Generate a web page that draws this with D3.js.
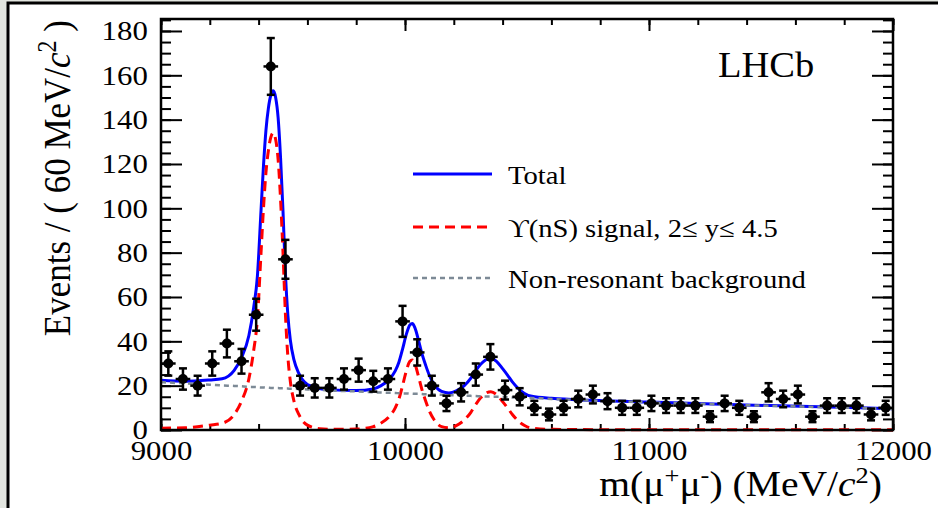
<!DOCTYPE html>
<html>
<head>
<meta charset="utf-8">
<script src="https://cdn.jsdelivr.net/npm/d3@7"></script>
<style>
body { margin: 0; background: #e2e5df; }
svg { display: block; }
</style>
</head>
<body>
<svg id="chart" width="938" height="508"></svg>
<script>
// bins of 60 MeV between 9000 and 12000
var binLow = 9000, binWidth = 60;
var counts = [30, 23, 20, 30, 39, 31, 52, 164, 77, 20,
              19, 19, 23, 27, 22, 23, 49, 35, 20, 12,
              17, 25, 33, 18, 15, 10, 7, 10, 14, 16,
              13, 10, 10, 12, 11, 11, 11, 6, 12, 10,
              6, 17, 14, 16, 6, 11, 11, 11, 7, 10];

// fit curves
var massGrid = [9000, 9100, 9200, 9250, 9300, 9330, 9360, 9380, 9395, 9410,
                9420, 9430, 9440, 9450, 9460, 9470, 9480, 9490, 9500, 9510,
                9520, 9530, 9545, 9565, 9600, 9650, 9700, 9800, 9870, 9900,
                9935, 9960, 9975, 9990, 10005, 10020, 10030, 10040, 10058, 10070,
                10085, 10100, 10120, 10150, 10180, 10210, 10243, 10270, 10290, 10310,
                10330, 10352, 10375, 10400, 10420, 10440, 10460, 10490, 10520, 10600,
                11000, 11500, 12000];
var signal = [0.8, 1.0, 2.2, 3.0, 7, 13, 23, 36, 50, 80,
              100, 116, 126, 132, 134, 131, 122, 104, 80, 52,
              33, 22, 13, 7, 2.2, 0.6, 0.3, 0.4, 1.5, 3,
              6, 10, 14, 20, 26.5, 31, 31.6, 30, 23, 18,
              13, 8.5, 4.5, 1.5, 1, 2, 4.5, 8, 11.5, 14.5,
              16.5, 17.3, 16, 12.8, 10, 7, 4.5, 2, 0.8, 0.3,
              0.1, 0.1, 0.1];
var background = [21.6, 21.0, 20.4, 20.1, 19.9, 19.7, 19.5, 19.4, 19.3, 19.2,
                  19.2, 19.1, 19.1, 19.0, 19.0, 18.9, 18.9, 18.8, 18.8, 18.7,
                  18.7, 18.6, 18.6, 18.5, 18.3, 18.1, 17.8, 17.4, 17.0, 16.9,
                  16.8, 16.7, 16.6, 16.5, 16.5, 16.4, 16.4, 16.3, 16.3, 16.2,
                  16.1, 16.1, 16.0, 15.9, 15.7, 15.6, 15.5, 15.4, 15.3, 15.2,
                  15.1, 15.1, 15.0, 14.9, 14.8, 14.7, 14.7, 14.5, 14.4, 14.0,
                  12.5, 10.9, 9.5];

var yTicks = [0, 20, 40, 60, 80, 100, 120, 140, 160, 180];
var xTicks = [9000, 10000, 11000, 12000];
var legendLabels = ["Total", "\u03D2(nS) signal, 2\u2264 y\u2264 4.5", "Non-resonant background"];

var svg = d3.select("#chart"),
    width = +svg.attr("width"),
    height = +svg.attr("height");

var pLeft = 161, pRight = 893, pTop = 19, pBottom = 430;
var stretch = "scale(1.1,1)";

// outer frame
svg.append("rect")
    .attr("x", 8).attr("y", 3)
    .attr("width", 960).attr("height", 540)
    .attr("fill", "white")
    .attr("stroke", "black")
    .attr("stroke-width", 3);

var x = d3.scaleLinear().domain([9000, 12000]).range([pLeft, pRight]);
var y = d3.scaleLinear().domain([0, 185.4]).range([pBottom, pTop]);

// ticks, ROOT style (inside)
function minorAxis(axis, vals, size) {
    return axis.tickValues(vals).tickSize(size).tickFormat("");
}
var yMinor = d3.range(0, 186, 5), xMinor = d3.range(9000, 12001, 200);

svg.append("g").attr("transform", "translate(" + pLeft + ",0)")
    .call(minorAxis(d3.axisLeft(y), yMinor, -10));
svg.append("g").attr("transform", "translate(" + pRight + ",0)")
    .call(minorAxis(d3.axisRight(y), yMinor, -10));
svg.append("g").attr("transform", "translate(" + pRight + ",0)")
    .call(minorAxis(d3.axisRight(y), yTicks, -21));
svg.append("g").attr("transform", "translate(0," + pBottom + ")")
    .call(minorAxis(d3.axisBottom(x), xMinor, -6));
svg.append("g").attr("transform", "translate(0," + pTop + ")")
    .call(minorAxis(d3.axisTop(x), xMinor, -6));
svg.append("g").attr("transform", "translate(0," + pTop + ")")
    .call(minorAxis(d3.axisTop(x), xTicks, -12));

var yAxis = svg.append("g")
    .attr("class", "yaxis")
    .attr("transform", "translate(" + pLeft + ",0)")
    .call(d3.axisLeft(y).tickValues(yTicks).tickSize(-21).tickPadding(12));
var xAxis = svg.append("g")
    .attr("class", "xaxis")
    .attr("transform", "translate(0," + pBottom + ")")
    .call(d3.axisBottom(x).tickValues(xTicks).tickSize(-12).tickPadding(10).tickFormat(d3.format("d")));

svg.selectAll(".domain").remove();
svg.selectAll(".tick line").attr("stroke", "black").attr("stroke-width", 2);
svg.selectAll(".yaxis text, .xaxis text")
    .attr("transform", stretch)
    .attr("font-family", "Liberation Serif")
    .attr("font-size", 28)
    .attr("fill", "black");

// curves
var line = d3.line()
    .x(function (d) { return x(d[0]); })
    .y(function (d) { return y(d[1]); })
    .curve(d3.curveMonotoneX);

svg.append("clipPath").attr("id", "plotclip")
    .append("rect").attr("x", pLeft).attr("y", pTop - 2)
    .attr("width", pRight - pLeft).attr("height", pBottom - pTop + 6);

var plot = svg.append("g").attr("clip-path", "url(#plotclip)");

var totalPts = massGrid.map(function (m, i) { return [m, signal[i] + background[i]]; });
var sigPts = massGrid.map(function (m, i) { return [m, signal[i]]; });
var bkgPts = massGrid.map(function (m, i) { return [m, background[i]]; });

plot.append("path").attr("d", line(totalPts))
    .attr("fill", "none").attr("stroke", "#0000ff").attr("stroke-width", 3);
plot.append("path").attr("d", line(sigPts))
    .attr("fill", "none").attr("stroke", "#ff0000").attr("stroke-width", 3)
    .attr("stroke-dasharray", "10,6");
plot.append("path").attr("d", line(bkgPts))
    .attr("fill", "none").attr("stroke", "#7d8a96").attr("stroke-width", 2.5)
    .attr("stroke-dasharray", "5,4");

// data points with errors
var bins = counts.map(function (n, i) {
    return { m: binLow + binWidth * (i + 0.5), n: n, e: Math.sqrt(n) };
});
var pts = svg.append("g").selectAll("g").data(bins).enter().append("g");
pts.append("line")
    .attr("x1", function (d) { return x(d.m - binWidth / 2); })
    .attr("x2", function (d) { return x(d.m + binWidth / 2); })
    .attr("y1", function (d) { return y(d.n); })
    .attr("y2", function (d) { return y(d.n); })
    .attr("stroke", "black").attr("stroke-width", 2.5);
pts.append("line")
    .attr("x1", function (d) { return x(d.m); })
    .attr("x2", function (d) { return x(d.m); })
    .attr("y1", function (d) { return y(d.n - d.e); })
    .attr("y2", function (d) { return y(d.n + d.e); })
    .attr("stroke", "black").attr("stroke-width", 2.5);
[-1, 1].forEach(function (s) {
    pts.append("line")
        .attr("x1", function (d) { return x(d.m) - 4; })
        .attr("x2", function (d) { return x(d.m) + 4; })
        .attr("y1", function (d) { return y(d.n + s * d.e); })
        .attr("y2", function (d) { return y(d.n + s * d.e); })
        .attr("stroke", "black").attr("stroke-width", 2.5);
});
pts.append("circle")
    .attr("cx", function (d) { return x(d.m); })
    .attr("cy", function (d) { return y(d.n); })
    .attr("r", 5)
    .attr("fill", "black");

// frame
svg.append("rect")
    .attr("x", pLeft).attr("y", pTop)
    .attr("width", pRight - pLeft).attr("height", pBottom - pTop)
    .attr("fill", "none").attr("stroke", "black").attr("stroke-width", 2.5);

// legend
var legY = [174, 227, 278];
var legStyle = [
    { c: "#0000ff", w: 3, dash: null },
    { c: "#ff0000", w: 3, dash: "10,6" },
    { c: "#7d8a96", w: 2.5, dash: "5,4" }
];
var leg = svg.append("g").selectAll("g").data(legendLabels).enter().append("g");
leg.append("line")
    .attr("x1", 413).attr("x2", 492)
    .attr("y1", function (d, i) { return legY[i]; })
    .attr("y2", function (d, i) { return legY[i]; })
    .attr("stroke", function (d, i) { return legStyle[i].c; })
    .attr("stroke-width", function (d, i) { return legStyle[i].w; })
    .attr("stroke-dasharray", function (d, i) { return legStyle[i].dash; });
leg.append("text")
    .attr("transform", function (d, i) { return "translate(508," + (legY[i] + 10) + ") " + stretch; })
    .attr("font-family", "Liberation Serif")
    .attr("font-size", 26)
    .attr("fill", "black")
    .text(function (d) { return d; });

// LHCb
svg.append("text")
    .attr("transform", "translate(718,77) " + stretch)
    .attr("font-family", "Liberation Serif")
    .attr("font-size", 35)
    .text("LHCb");

// axis titles
var yt = svg.append("text")
    .attr("transform", "translate(70,20) " + stretch + " rotate(-90)")
    .attr("text-anchor", "end")
    .attr("font-family", "Liberation Serif")
    .attr("font-size", 35);
yt.append("tspan").text("Events / ( 60 MeV/");
yt.append("tspan").attr("font-style", "italic").text("c");
yt.append("tspan").attr("font-size", 24).attr("dy", -13).text("2");
yt.append("tspan").attr("dy", 13).text(" )");

var xt = svg.append("text")
    .attr("transform", "translate(882,496) " + stretch)
    .attr("text-anchor", "end")
    .attr("font-family", "Liberation Serif")
    .attr("font-size", 36);
xt.append("tspan").text("m(\u03BC");
xt.append("tspan").attr("font-size", 24).attr("dy", -13).text("+");
xt.append("tspan").attr("dy", 13).text("\u03BC");
xt.append("tspan").attr("font-size", 24).attr("dy", -13).text("-");
xt.append("tspan").attr("dy", 13).text(") (MeV/");
xt.append("tspan").attr("font-style", "italic").text("c");
xt.append("tspan").attr("font-size", 24).attr("dy", -13).text("2");
xt.append("tspan").attr("dy", 13).text(")");
</script>
</body>
</html>
